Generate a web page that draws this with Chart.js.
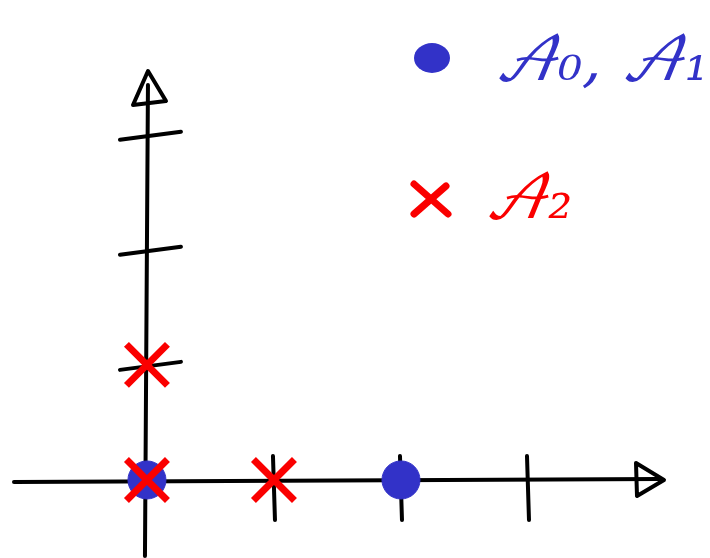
<!DOCTYPE html>
<html>
<head>
<meta charset="utf-8">
<script src="https://cdn.jsdelivr.net/npm/chart.js@4/dist/chart.umd.min.js"></script>
<style>
  html, body { margin: 0; padding: 0; background: #fff; }
  #wrap { width: 710px; height: 558px; }
</style>
</head>
<body>
<div id="wrap"><canvas id="sketch"></canvas></div>
<script>
// data
const blueX = [0, 2];
const blueY = [0, 0];
const redX = [0, 1, 0];
const redY = [0, 0, 1];
const xTicks = [1, 2, 3];
const yTicks = [1, 2, 3];
const legendLabels = ['\u{1D49C}\u2080, \u{1D49C}\u2081', '\u{1D49C}\u2082'];

const BLUE = 'rgb(50, 50, 200)';
const RED = 'rgb(250, 0, 0)';

// hand drawn axes + legend
const sketchAxes = {
  id: 'sketchAxes',
  beforeDatasetsDraw(chart) {
    const ctx = chart.ctx;
    const xs = chart.scales.x, ys = chart.scales.y;
    const x0 = xs.getPixelForValue(0), y0 = ys.getPixelForValue(0);
    ctx.save();
    ctx.strokeStyle = '#000';
    ctx.lineWidth = 4;
    ctx.lineCap = 'round';
    ctx.lineJoin = 'round';

    // x axis
    ctx.beginPath();
    ctx.moveTo(14, y0 + 2);
    ctx.lineTo(660, y0 - 1);
    ctx.stroke();
    // y axis
    ctx.beginPath();
    ctx.moveTo(x0 - 2, 556);
    ctx.lineTo(x0 + 1, 85);
    ctx.stroke();

    // arrow heads
    ctx.beginPath();
    ctx.moveTo(636, y0 - 17);
    ctx.lineTo(664, y0);
    ctx.lineTo(637, y0 + 16);
    ctx.closePath();
    ctx.stroke();
    ctx.beginPath();
    ctx.moveTo(133, 105);
    ctx.lineTo(148, 71);
    ctx.lineTo(166, 101);
    ctx.closePath();
    ctx.stroke();

    // ticks
    xTicks.forEach(function (v) {
      const px = xs.getPixelForValue(v);
      ctx.beginPath();
      ctx.moveTo(px - 1, y0 - 24);
      ctx.lineTo(px + 1, y0 + 40);
      ctx.stroke();
    });
    yTicks.forEach(function (v) {
      const py = ys.getPixelForValue(v);
      ctx.beginPath();
      ctx.moveTo(x0 - 27, py + 5);
      ctx.lineTo(x0 + 34, py - 3);
      ctx.stroke();
    });

    // legend
    ctx.fillStyle = BLUE;
    ctx.beginPath();
    ctx.ellipse(432, 58, 18, 15, 0, 0, Math.PI * 2);
    ctx.fill();
    ctx.strokeStyle = RED;
    ctx.lineWidth = 7;
    ctx.beginPath();
    ctx.moveTo(414, 184); ctx.lineTo(448, 214);
    ctx.moveTo(446, 186); ctx.lineTo(414, 214);
    ctx.stroke();

    ctx.font = 'italic 60px "DejaVu Math TeX Gyre", "DejaVu Serif", serif';
    ctx.textBaseline = 'alphabetic';
    ctx.fillStyle = BLUE;
    ctx.fillText(legendLabels[0], 494, 80);
    ctx.fillStyle = RED;
    ctx.fillText(legendLabels[1], 484, 218);
    ctx.restore();
  }
};

function pts(xv, yv) {
  return xv.map(function (x, i) { return { x: x, y: yv[i] }; });
}

new Chart(document.getElementById('sketch'), {
  type: 'scatter',
  data: {
    datasets: [
      {
        label: legendLabels[0],
        data: pts(blueX, blueY),
        order: 1,
        pointStyle: 'circle',
        pointRadius: 19,
        backgroundColor: BLUE,
        borderColor: BLUE,
        borderWidth: 1
      },
      {
        label: legendLabels[1],
        data: pts(redX, redY),
        order: 0,
        pointStyle: 'crossRot',
        pointRadius: 29,
        borderColor: RED,
        borderWidth: 7
      }
    ]
  },
  options: {
    responsive: true,
    maintainAspectRatio: false,
    animation: false,
    layout: { padding: 0, autoPadding: false },
    plugins: { legend: { display: false }, tooltip: { enabled: false } },
    scales: {
      x: { display: false, min: -1.157, max: 4.433 },
      y: { display: false, min: -0.678, max: 4.17 }
    }
  },
  plugins: [sketchAxes]
});
</script>
</body>
</html>
